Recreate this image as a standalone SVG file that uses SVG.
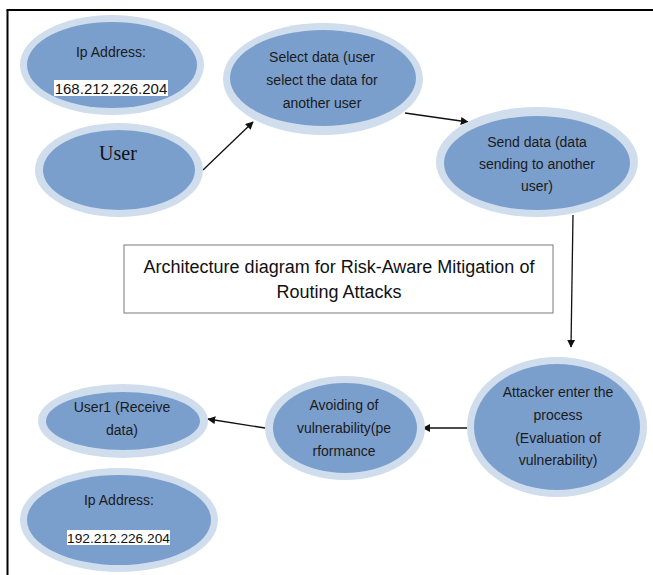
<svg xmlns="http://www.w3.org/2000/svg" width="653" height="575" viewBox="0 0 653 575">
  <style>
    .ring { fill: #d0ddec; }
    .core { fill: #7b9fcd; }
    .lbl { font-family: "Liberation Sans", Arial, sans-serif; font-size: 14px; fill: #1a1a1a; text-anchor: middle; }
    .ip { font-family: "Liberation Sans", Arial, sans-serif; fill: #111; text-anchor: middle; }
    .ipbox { fill: #ffffff; }
    .edge { stroke: #111; stroke-width: 1.3; fill: none; marker-end: url(#arrow); }
    .title { font-family: "Liberation Sans", Arial, sans-serif; font-size: 18px; fill: #111; text-anchor: middle; }
  </style>
  <defs>
    <marker id="arrow" viewBox="0 0 10 10" refX="9" refY="5" markerWidth="8" markerHeight="8" orient="auto" markerUnits="userSpaceOnUse">
      <path d="M0,0 L10,5 L0,10 z" fill="#111"/>
    </marker>
  </defs>

  <rect width="653" height="575" fill="#ffffff"/>

  <!-- page frame -->
  <g id="frame" stroke="#000" stroke-width="2" fill="none">
    <line x1="6.5" y1="10" x2="653" y2="10"/>
    <line x1="7.5" y1="10" x2="7.5" y2="575"/>
  </g>

  <!-- connectors -->
  <g id="connectors">
    <line class="edge" x1="203" y1="170" x2="253" y2="122"/>
    <line class="edge" x1="405" y1="113" x2="468" y2="122"/>
    <line class="edge" x1="573" y1="215" x2="571" y2="347"/>
    <line class="edge" x1="467" y1="428" x2="423" y2="428"/>
    <line class="edge" x1="265" y1="428" x2="208" y2="419"/>
  </g>

  <g id="ip-sender">
    <ellipse class="ring" cx="112" cy="65" rx="92" ry="50"/>
    <ellipse class="core" cx="112" cy="65" rx="85" ry="43"/>
    <text class="lbl" x="111" y="57" font-size="14.5">Ip Address:</text>
    <rect class="ipbox" x="54" y="80" width="114" height="16"/>
    <text class="ip" x="111" y="93.5" font-size="15">168.212.226.204</text>
  </g>

  <g id="user">
    <ellipse class="ring" cx="119" cy="170" rx="84" ry="47"/>
    <ellipse class="core" cx="119" cy="170" rx="76" ry="40"/>
    <text x="118" y="160" font-family="Liberation Serif, Times New Roman, serif" font-size="20" fill="#111" text-anchor="middle">User</text>
  </g>

  <g id="select-data">
    <ellipse class="ring" cx="323" cy="79" rx="100" ry="56"/>
    <ellipse class="core" cx="323" cy="78" rx="93" ry="48"/>
    <text class="lbl" x="322" y="62">Select data (user</text>
    <text class="lbl" x="322" y="85">select the data for</text>
    <text class="lbl" x="322" y="108">another user</text>
  </g>

  <g id="send-data">
    <ellipse class="ring" cx="537" cy="162" rx="101" ry="55"/>
    <ellipse class="core" cx="537" cy="163" rx="93" ry="47"/>
    <text class="lbl" x="537" y="147">Send data (data</text>
    <text class="lbl" x="537" y="169">sending to another</text>
    <text class="lbl" x="537" y="191">user)</text>
  </g>

  <g id="title">
    <rect x="124" y="245" width="429" height="68" fill="#fff" stroke="#7a7a7a" stroke-width="1"/>
    <text class="title" x="339" y="273">Architecture diagram for Risk-Aware Mitigation of</text>
    <text class="title" x="339" y="298">Routing Attacks</text>
  </g>

  <g id="attacker">
    <ellipse class="ring" cx="557" cy="427" rx="90" ry="70"/>
    <ellipse class="core" cx="557" cy="427" rx="83" ry="63"/>
    <text class="lbl" x="558" y="397">Attacker enter the</text>
    <text class="lbl" x="558" y="420">process</text>
    <text class="lbl" x="558" y="443">(Evaluation of</text>
    <text class="lbl" x="558" y="465">vulnerability)</text>
  </g>

  <g id="avoiding">
    <ellipse class="ring" cx="345" cy="428" rx="80" ry="52"/>
    <ellipse class="core" cx="345" cy="428" rx="72" ry="45"/>
    <text class="lbl" x="344" y="410">Avoiding of</text>
    <text class="lbl" x="344" y="433">vulnerability(pe</text>
    <text class="lbl" x="344" y="456">rformance</text>
  </g>

  <g id="receiver">
    <ellipse class="ring" cx="123" cy="421" rx="85" ry="37"/>
    <ellipse class="core" cx="123" cy="421" rx="77" ry="29"/>
    <text class="lbl" x="122" y="412">User1 (Receive</text>
    <text class="lbl" x="122" y="435">data)</text>
  </g>

  <g id="ip-receiver">
    <ellipse class="ring" cx="119" cy="520" rx="99" ry="52"/>
    <ellipse class="core" cx="119" cy="520" rx="92" ry="45"/>
    <text class="lbl" x="119" y="505" font-size="14.5">Ip Address:</text>
    <rect class="ipbox" x="67" y="530" width="103" height="15"/>
    <text class="ip" x="118.5" y="542.5" font-size="13.7">192.212.226.204</text>
  </g>
</svg>
